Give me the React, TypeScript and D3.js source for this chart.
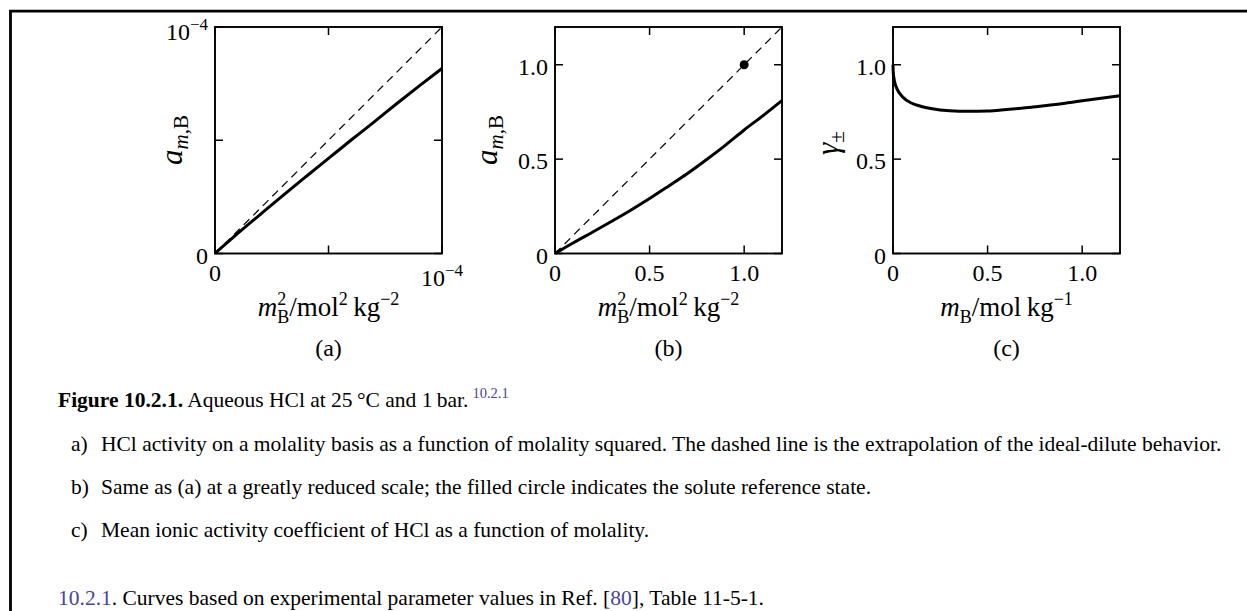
import React from "react";
import * as d3 from "d3";

// ---------- data ----------
// (a) activity vs molality squared, very dilute region
const msqA = [0, 0.01e-4, 0.05e-4, 0.1e-4, 0.2e-4, 0.3e-4, 0.4e-4, 0.5e-4, 0.6e-4, 0.7e-4, 0.8e-4, 0.9e-4, 1.0e-4];
const actA = [0, 0.0093e-4, 0.0448e-4, 0.0885e-4, 0.173e-4, 0.257e-4, 0.339e-4, 0.42e-4, 0.501e-4, 0.58e-4, 0.661e-4, 0.74e-4, 0.817e-4];
// (b) activity vs molality squared, wide range
const msqB = [0, 0.0025, 0.01, 0.04, 0.1, 0.2, 0.3, 0.4, 0.5, 0.6, 0.7, 0.8, 0.9, 1.0, 1.1, 1.2];
const actB = [0, 0.00172, 0.00634, 0.0236, 0.0584, 0.1137, 0.1706, 0.2292, 0.2911, 0.3567, 0.4237, 0.4968, 0.5731, 0.6545, 0.7307, 0.8108];
// (c) mean ionic activity coefficient vs molality
const molC = [0, 0.001, 0.002, 0.005, 0.01, 0.02, 0.05, 0.1, 0.15, 0.2, 0.3, 0.4, 0.5, 0.6, 0.7, 0.8, 0.9, 1.0, 1.1, 1.2];
const gammaC = [1.0, 0.965, 0.952, 0.929, 0.904, 0.875, 0.83, 0.796, 0.779, 0.768, 0.756, 0.753, 0.755, 0.763, 0.772, 0.783, 0.795, 0.809, 0.822, 0.836];

const ticksA = [0, 0.5e-4, 1.0e-4];
const tickLabelsA = ["0", "", "10^-4"];
const ticksBC = [0, 0.5, 1.0];
const tickLabelsBC = ["0", "0.5", "1.0"];
const idealA = [0, 1.0e-4];
const idealB = [0, 1.2];
const refState = [1.0, 1.0];
const panelNames = ["(a)", "(b)", "(c)"];

const FONT = "'Liberation Serif', 'Times New Roman', Times, serif";
const LINK = "#45459a";

const TOP = 27;
const BOT = 253.5;
const W = 227;
const TICKFS = 24;

function TickLabel({ s, x, y, anchor }: { s: string; x: number; y: number; anchor: string }) {
  if (s.includes("^")) {
    const [b, e] = s.split("^");
    return (
      <text x={x} y={y} textAnchor={anchor} fontSize={TICKFS} fontFamily={FONT}>
        {b}
        <tspan fontSize={17} dy={-10}>{e.replace("-", "\u2212")}</tspan>
      </text>
    );
  }
  return (
    <text x={x} y={y} textAnchor={anchor} fontSize={TICKFS} fontFamily={FONT}>
      {s}
    </text>
  );
}

function Frame({ left, xs, ys, ticks, labels, xLabelY }: any) {
  const right = left + W;
  const L = 8;
  return (
    <g>
      <rect x={left} y={TOP} width={W} height={BOT - TOP} fill="none" stroke="#000" strokeWidth={1.9} />
      {ticks.map((t: number, i: number) => {
        const x = xs(t);
        const y = ys(t);
        return (
          <g key={"t" + i}>
            <line x1={x} x2={x} y1={BOT} y2={BOT - L} stroke="#000" strokeWidth={1.5} />
            <line x1={x} x2={x} y1={TOP} y2={TOP + L} stroke="#000" strokeWidth={1.5} />
            <line x1={left} x2={left + L} y1={y} y2={y} stroke="#000" strokeWidth={1.5} />
            <line x1={right} x2={right - L} y1={y} y2={y} stroke="#000" strokeWidth={1.5} />
          </g>
        );
      })}
      {ticks.map((t: number, i: number) =>
        labels[i] ? (
          <TickLabel key={"xl" + i} s={labels[i]} x={xs(t)} y={labels[i].includes("^") ? xLabelY + 5 : xLabelY} anchor="middle" />
        ) : null
      )}
      {ticks.map((t: number, i: number) =>
        labels[i] ? (
          <TickLabel key={"yl" + i} s={labels[i]} x={left - 7} y={ys(t) + (labels[i].includes("^") ? 13 : 10)} anchor="end" />
        ) : null
      )}
    </g>
  );
}

export default function App() {
  const lefts = [215, 555, 893];

  const xa = d3.scaleLinear().domain([0, 1e-4]).range([lefts[0], lefts[0] + W]);
  const ya = d3.scaleLinear().domain([0, 1e-4]).range([BOT, TOP]);
  const xb = d3.scaleLinear().domain([0, 1.2]).range([lefts[1], lefts[1] + W]);
  const yb = d3.scaleLinear().domain([0, 1.2]).range([BOT, TOP]);
  const xc = d3.scaleLinear().domain([0, 1.2]).range([lefts[2], lefts[2] + W]);
  const yc = d3.scaleLinear().domain([0, 1.2]).range([BOT, TOP]);

  const lineA = d3.line<number>().x((d, i) => xa(msqA[i])).y((d) => ya(d)).curve(d3.curveMonotoneX);
  const lineB = d3.line<number>().x((d, i) => xb(msqB[i])).y((d) => yb(d)).curve(d3.curveMonotoneX);
  const lineC = d3.line<number>().x((d, i) => xc(molC[i])).y((d) => yc(d)).curve(d3.curveMonotoneX);

  const xLabelY = 281;
  const titleY = 316;
  const panelY = 356;
  const centers = lefts.map((l) => l + W / 2);
  const CAP = 21.5;

  return (
    <svg width={1247} height={611} style={{ position: "absolute", left: 0, top: 0, background: "#fff" }}>
      <rect x={0} y={0} width={1247} height={611} fill="#fff" />
      {/* page border */}
      <path d="M10.5,611 V11.2 H1247" fill="none" stroke="#000" strokeWidth={2.8} />

      {/* panel a */}
      <Frame left={lefts[0]} xs={xa} ys={ya} ticks={ticksA} labels={tickLabelsA} xLabelY={xLabelY} />
      <line x1={xa(idealA[0])} y1={ya(idealA[0])} x2={xa(idealA[1])} y2={ya(idealA[1])} stroke="#000" strokeWidth={1.2} strokeDasharray="8,5.5" />
      <path d={lineA(actA) || ""} fill="none" stroke="#000" strokeWidth={3} />

      {/* panel b */}
      <Frame left={lefts[1]} xs={xb} ys={yb} ticks={ticksBC} labels={tickLabelsBC} xLabelY={xLabelY} />
      <line x1={xb(idealB[0])} y1={yb(idealB[0])} x2={xb(idealB[1])} y2={yb(idealB[1])} stroke="#000" strokeWidth={1.2} strokeDasharray="8,5.5" />
      <path d={lineB(actB) || ""} fill="none" stroke="#000" strokeWidth={3} />
      <circle cx={xb(refState[0])} cy={yb(refState[1])} r={4.5} fill="#000" />

      {/* panel c */}
      <Frame left={lefts[2]} xs={xc} ys={yc} ticks={ticksBC} labels={tickLabelsBC} xLabelY={xLabelY} />
      <path d={lineC(gammaC) || ""} fill="none" stroke="#000" strokeWidth={3} />

      {/* y axis labels */}
      {[182, 497].map((x, i) => (
        <text key={"ya" + i} transform={`translate(${x},140) rotate(-90)`} textAnchor="middle" fontSize={31} fontFamily={FONT}>
          <tspan fontStyle="italic">a</tspan>
          <tspan fontSize={21} dy={6} fontStyle="italic">m</tspan>
          <tspan fontSize={21}>,B</tspan>
        </text>
      ))}
      <text transform={`translate(838,143) rotate(-90)`} textAnchor="middle" fontSize={31} fontFamily={FONT}>
        <tspan fontStyle="italic">γ</tspan>
        <tspan fontSize={21} dy={6}>±</tspan>
      </text>

      {/* x axis titles */}
      {[0, 1].map((i) => (
        <text key={"xt" + i} x={centers[i]} y={titleY} textAnchor="middle" fontSize={27} fontFamily={FONT}>
          <tspan fontStyle="italic">m</tspan>
          <tspan fontSize={18} dy={-11}>2</tspan>
          <tspan fontSize={18} dx={-9} dy={18}>B</tspan>
          <tspan dy={-7}>/mol</tspan>
          <tspan fontSize={18} dy={-11}>2</tspan>
          <tspan dy={11}>{"\u2009kg"}</tspan>
          <tspan fontSize={18} dy={-11}>{"\u22122"}</tspan>
        </text>
      ))}
      <text x={centers[2]} y={titleY} textAnchor="middle" fontSize={27} fontFamily={FONT}>
        <tspan fontStyle="italic">m</tspan>
        <tspan fontSize={18} dy={7}>B</tspan>
        <tspan dy={-7}>/mol{"\u2009"}kg</tspan>
        <tspan fontSize={18} dy={-11}>{"\u22121"}</tspan>
      </text>

      {panelNames.map((n, i) => (
        <text key={n} x={centers[i]} y={panelY} textAnchor="middle" fontSize={24} fontFamily={FONT}>
          {n}
        </text>
      ))}

      {/* caption */}
      <text x={58} y={407} fontSize={CAP} fontFamily={FONT}>
        <tspan fontWeight="bold">Figure 10.2.1.</tspan>
        <tspan> Aqueous HCl at 25{"\u2009"}°C and 1{"\u2009"}bar.</tspan>
        <tspan fill={LINK} fontSize={14.5} dy={-9} dx={4}>10.2.1</tspan>
      </text>
      {[
        ["a)", "HCl activity on a molality basis as a function of molality squared. The dashed line is the extrapolation of the ideal-dilute behavior.", 451],
        ["b)", "Same as (a) at a greatly reduced scale; the filled circle indicates the solute reference state.", 494],
        ["c)", "Mean ionic activity coefficient of HCl as a function of molality.", 537],
      ].map(([l, t, y]) => (
        <g key={l as string}>
          <text x={71} y={y as number} fontSize={CAP} fontFamily={FONT}>{l}</text>
          <text x={101} y={y as number} fontSize={CAP} fontFamily={FONT}>{t}</text>
        </g>
      ))}
      <text x={58} y={605} fontSize={CAP} fontFamily={FONT}>
        <tspan fill={LINK}>10.2.1</tspan>
        <tspan>. Curves based on experimental parameter values in Ref. [</tspan>
        <tspan fill={LINK}>80</tspan>
        <tspan>], Table 11-5-1.</tspan>
      </text>
    </svg>
  );
}
